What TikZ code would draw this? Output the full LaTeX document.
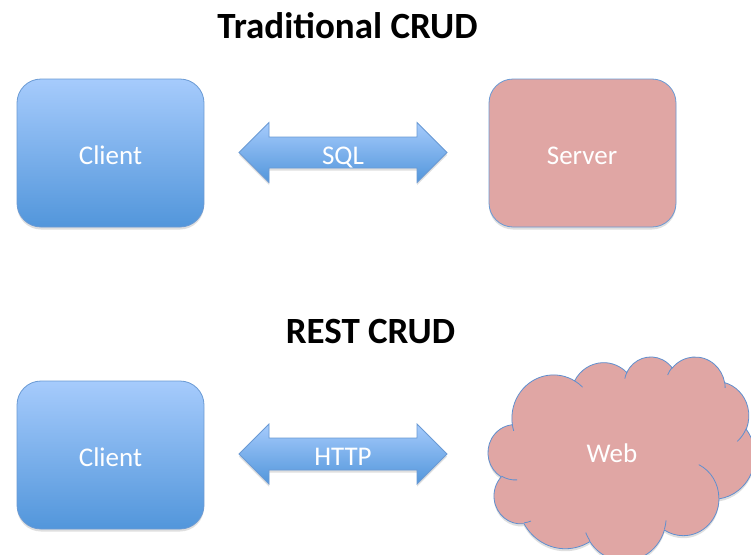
\documentclass[tikz,border=0pt]{standalone}
\usepackage{fontspec}
\setmainfont{Carlito}
\usetikzlibrary{shadows}
\definecolor{bluetop}{HTML}{A6CBFC}
\definecolor{bluebot}{HTML}{5296DB}
\definecolor{blueline}{HTML}{6A9AD4}
\definecolor{pinkfill}{HTML}{E0A6A4}
\definecolor{cloudline}{HTML}{5F8FCF}
\tikzset{
  title/.style={font=\fontsize{37}{40}\selectfont\bfseries, text=black, anchor=base},
  lbl/.style={font=\fontsize{27}{30}\selectfont, text=white, anchor=base},
  softshadow/.style={drop shadow={opacity=0.25, shadow xshift=0pt, shadow yshift=-2.5pt}},
  clientbox/.style={rectangle, rounded corners=24pt, minimum width=187pt, minimum height=148pt,
    top color=bluetop, bottom color=bluebot, draw=blueline, line width=0.8pt, softshadow},
  serverbox/.style={rectangle, rounded corners=24pt, minimum width=187pt, minimum height=148pt,
    fill=pinkfill, draw=blueline, line width=0.8pt, softshadow},
  dblarrow/.style={top color=bluetop, bottom color=bluebot, draw=blueline, line width=0.8pt, softshadow},
  cloudbody/.style={fill=pinkfill, draw=cloudline, line width=0.8pt, softshadow},
  cloudinner/.style={draw=cloudline, line width=0.8pt}
}
\begin{document}
\begin{tikzpicture}[x=1pt,y=-1pt]
\useasboundingbox (0,0) rectangle (751,554);
\fill[white] (0,0) rectangle (751,554);

% ---- Traditional CRUD ----
\node[title] (t1) at (347.5,38) {Traditional CRUD};
\node[clientbox] (client1) at (110.5,153) {};
\node[lbl] (client1lbl) at (110.5,164) {Client};
\node[serverbox] (server) at (582.5,153) {};
\node[lbl] (serverlbl) at (582,164) {Server};
\path[dblarrow] (239,152.5) -- (269,122.5) -- (269,137) -- (417,137) -- (417,122.5) -- (447,152.5)
  -- (417,182.5) -- (417,168) -- (269,168) -- (269,182.5) -- cycle;
\node[lbl] (sql) at (343,164) {SQL};

% ---- REST CRUD ----
\node[title] (t2) at (370.5,343.3) {REST CRUD};
\node[clientbox] (client2) at (110.5,455) {};
\node[lbl] (client2lbl) at (110.5,466) {Client};
\path[dblarrow] (239,454) -- (269,424) -- (269,438) -- (417,438) -- (417,424) -- (447,454)
  -- (417,484) -- (417,470) -- (269,470) -- (269,484) -- cycle;
\node[lbl] (http) at (343,465) {HTTP};

% ---- Web cloud ----
\coordinate (cloudorigin) at (488.2,356.3);
\begin{scope}[shift={(cloudorigin)}, x=0.617pt, y=-0.472pt]
\path[cloudbody] (39.00,143.70)
  arc[x radius=67.53, y radius=91.90, start angle=-187.745, delta angle=128.10]
  arc[x radius=53.33, y radius=72.67, start angle=-152.03, delta angle=106.57]
  arc[x radius=43.65, y radius=59.45, start angle=-153.49, delta angle=116.15]
  arc[x radius=48.57, y radius=65.95, start angle=-139.71, delta angle=129.50]
  arc[x radius=53.33, y radius=72.73, start angle=-74.77, delta angle=97.98]
  arc[x radius=67.75, y radius=92.20, start angle=-37.53, delta angle=119.39]
  arc[x radius=57.85, y radius=78.67, start angle=0.46, delta angle=121.51]
  arc[x radius=67.52, y radius=92.15, start angle=16.84, delta angle=129.40]
  arc[x radius=77.20, y radius=105.43, start angle=58.98, delta angle=91.20]
  arc[x radius=43.60, y radius=59.18, start angle=-276.69, delta angle=139.78]
  arc[x radius=43.45, y radius=59.45, start angle=-239.65, delta angle=143.77]
  -- cycle;
\path[cloudinner]
  (46.93,261.77) arc[x radius=43.45, y radius=59.45, start angle=85.55, delta angle=34.80]
  (69.28,348.99) arc[x radius=43.60, y radius=59.18, start angle=68.23, delta angle=15.08]
  (164.78,390.90) arc[x radius=67.52, y radius=92.15, start angle=146.24, delta angle=12.23]
  (288.27,347.51) arc[x radius=67.52, y radius=92.15, start angle=4.738, delta angle=12.10]
  (341.29,229.54) arc[x radius=57.85, y radius=78.67, start angle=-64.03, delta angle=64.49]
  (417.98,153.54) arc[x radius=53.33, y radius=72.73, start angle=23.21, delta angle=26.43]
  (383.24,54.26) arc[x radius=48.57, y radius=65.95, start angle=-10.21, delta angle=11.03]
  (290.78,39.52) arc[x radius=48.57, y radius=65.95, start angle=-156.29, delta angle=16.58]
  (221.41,47.20) arc[x radius=43.65, y radius=59.45, start angle=-167.73, delta angle=14.24]
  (140.00,51.92) arc[x radius=67.53, y radius=91.90, start angle=-59.64, delta angle=13.91]
  (41.27,157.89) arc[x radius=67.53, y radius=91.90, start angle=163.19, delta angle=9.07];
\end{scope}
\node[lbl] (web) at (612,462) {Web};
\end{tikzpicture}
\end{document}
